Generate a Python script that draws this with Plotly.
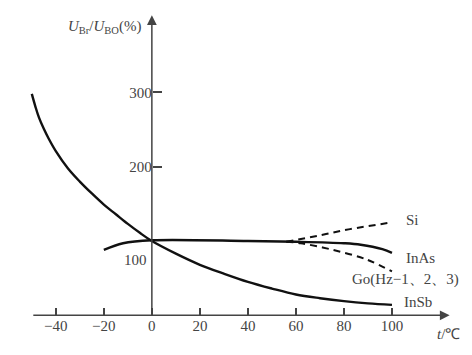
import plotly.graph_objects as go

# Data
insb_t = [-50, -48.5, -47, -45, -43, -40, -35, -30, -25, -20, -15, -10, -5, 0, 10, 20, 30, 40, 50, 60, 70, 80, 90, 100]
insb_v = [298, 281, 266, 251, 238, 221, 198, 180, 164, 149, 136, 123, 111, 100, 83, 68, 56, 45, 36, 28, 23, 19, 16, 14]

inas_t = [-20, -12, 0, 40, 60, 80, 87, 96, 100]
inas_v = [88, 97, 101, 100, 99, 97, 95, 89, 84]

si_t = [56, 69, 82.5, 100]
si_v = [99, 107, 116, 125]

go_t = [56, 62, 75.5, 89.5, 100]
go_v = [99, 97, 88, 75, 59]

x_ticks = [-40, -20, 0, 20, 40, 60, 80, 100]
x_labels = ["−40", "−20", "0", "20", "40", "60", "80", "100"]
y_ticks = [200, 300]
y_labels = ["200", "300"]

XR = [-52, 125]
YR = [-40, 415]
TXT = "#444444"
FONT = "Liberation Serif"
FS = 15

fig = go.Figure()
line_col = "#111111"
fig.add_trace(go.Scatter(x=insb_t, y=insb_v, mode="lines", line=dict(color=line_col, width=2.4, shape="spline")))
fig.add_trace(go.Scatter(x=inas_t, y=inas_v, mode="lines", line=dict(color=line_col, width=2.4, shape="spline")))
fig.add_trace(go.Scatter(x=si_t, y=si_v, mode="lines", line=dict(color=line_col, width=2, dash="7px,5px", shape="spline")))
fig.add_trace(go.Scatter(x=go_t, y=go_v, mode="lines", line=dict(color=line_col, width=2, dash="7px,5px", shape="spline")))

annos = []
# axes with arrows
annos.append(dict(x=124, y=0, ax=-50, ay=0, xref="x", yref="y", axref="x", ayref="y",
                  showarrow=True, arrowhead=2, arrowsize=1.3, arrowwidth=1.5, arrowcolor=TXT, text=""))
annos.append(dict(x=0, y=404, ax=0, ay=0, xref="x", yref="y", axref="x", ayref="y",
                  showarrow=True, arrowhead=2, arrowsize=1.3, arrowwidth=1.5, arrowcolor=TXT, text=""))

def txt(x, y, s, anchor="left"):
    annos.append(dict(x=x, y=y, xref="x", yref="y", text=s, showarrow=False, xanchor=anchor,
                      yanchor="middle", font=dict(family=FONT, size=FS, color=TXT)))

txt(104.9, 128, "Si")
txt(105, 77, "InAs")
txt(82.5, 48, "Go(Hz−1、2、3)")
txt(104.2, 18.5, "InSb")
txt(-1.2, 74.5, "100", "right")
txt(-3.5, 388, "<i>U</i><sub>Br</sub>/<i>U</i><sub>BO</sub>(%)", "right")
txt(118, -25, "<i>t</i>/℃", "left")

fig.update_layout(
    width=472, height=355,
    margin=dict(l=27, r=20, t=7, b=10),
    paper_bgcolor="white", plot_bgcolor="white",
    showlegend=False,
    annotations=annos,
    xaxis=dict(range=XR, showgrid=False, zeroline=False, showline=False, automargin=False,
               anchor="free", position=40 / 455,
               tickvals=x_ticks, ticktext=x_labels, ticks="inside", ticklen=7,
               tickwidth=1.5, tickcolor=TXT,
               tickfont=dict(family=FONT, size=FS, color=TXT)),
    yaxis=dict(range=YR, showgrid=False, zeroline=False, showline=False, automargin=False,
               anchor="free", position=52 / 177,
               tickvals=y_ticks, ticktext=y_labels, ticks="inside", ticklen=9,
               tickwidth=1.5, tickcolor=TXT,
               tickfont=dict(family=FONT, size=FS, color=TXT)),
)

fig.write_html("out.html", config={"displayModeBar": False},
               post_script="document.body.style.margin='0';document.body.style.padding='0';")
